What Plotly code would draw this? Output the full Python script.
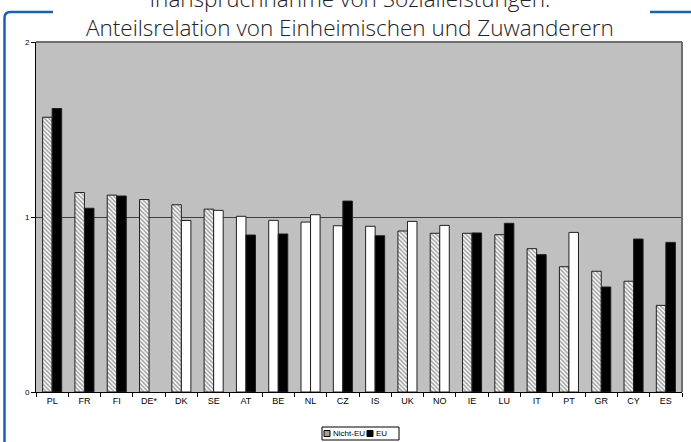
import plotly.graph_objects as go

countries = ["PL", "FR", "FI", "DE*", "DK", "SE", "AT", "BE", "NL", "CZ",
             "IS", "UK", "NO", "IE", "LU", "IT", "PT", "GR", "CY", "ES"]
nicht_eu = [1.57, 1.14, 1.125, 1.10, 1.07, 1.045, 1.004, 0.981, 0.971, 0.950,
            0.947, 0.920, 0.907, 0.907, 0.899, 0.819, 0.716, 0.690, 0.633, 0.495]
eu = [1.62, 1.05, 1.12, None, 0.98, 1.038, 0.897, 0.903, 1.013, 1.091,
      0.893, 0.975, 0.952, 0.909, 0.964, 0.785, 0.912, 0.600, 0.874, 0.855]
# styling flags
nicht_eu_hatched = [True, True, True, True, True, True, False, False, False, False,
                    False, True, True, True, True, True, True, True, True, True]
eu_black = [True, True, True, True, False, False, True, True, False, True,
            True, False, False, True, True, True, False, True, True, True]
title_lines = ["Inanspruchnahme von Sozialleistungen:",
               "Anteilsrelation von Einheimischen und Zuwanderern"]

W, H = 691, 442
L, R, T, B = 36, 9, 42, 50
pw, ph = W - L - R, H - T - B

def px(x):
    return (x - L) / pw

def py(y):
    return (H - B - y) / ph

fig = go.Figure()
fig.add_trace(go.Bar(
    x=countries, y=nicht_eu, name="Nicht-EU",
    marker=dict(
        color="white",
        line=dict(color="#202020", width=1),
        pattern=dict(shape=["\\" if h else "" for h in nicht_eu_hatched],
                     fgcolor="#404040", bgcolor="white", size=3, solidity=0.5),
    ),
    showlegend=False,
))
fig.add_trace(go.Bar(
    x=countries, y=eu, name="EU",
    marker=dict(
        color=["black" if b else "white" for b in eu_black],
        line=dict(color="#202020", width=1),
    ),
    showlegend=False,
))

blue = "#1a62b0"
shapes = [
    dict(type="line", xref="paper", yref="paper", x0=0, x1=1, y0=1, y1=1,
         line=dict(color="#6e6e6e", width=2)),
    dict(type="line", xref="paper", yref="paper", x0=1, x1=1, y0=0, y1=1,
         line=dict(color="#6e6e6e", width=2)),
    dict(type="path", xref="paper", yref="paper",
         path=f"M {px(4.5)},{py(445)} L {px(4.5)},{py(18)} Q {px(4.5)},{py(12)} {px(10.5)},{py(12)} L {px(53)},{py(12)}",
         line=dict(color=blue, width=2.5)),
    dict(type="line", xref="paper", yref="paper", x0=px(650), x1=px(695), y0=py(12), y1=py(12),
         line=dict(color=blue, width=2.5)),
    dict(type="rect", xref="paper", yref="paper", x0=px(322), x1=px(399), y0=py(427), y1=py(440),
         line=dict(color="black", width=1), fillcolor="white"),
    dict(type="rect", xref="paper", yref="paper", x0=px(324), x1=px(330), y0=py(430.5), y1=py(436.5),
         line=dict(color="black", width=1), fillcolor="#a0a0a0"),
    dict(type="rect", xref="paper", yref="paper", x0=px(367), x1=px(373), y0=py(430.5), y1=py(436.5),
         line=dict(color="black", width=1), fillcolor="black"),
]

title_font = dict(family="Open Sans", size=22.5, color="#222222", weight=300)
annotations = [
    dict(text="<br>".join(title_lines), xref="paper", yref="paper",
         x=px(350), y=py(13), xanchor="center", yanchor="middle", showarrow=False,
         align="center", font=title_font),
    dict(text="Nicht-EU", xref="paper", yref="paper", x=px(331), y=py(433.5),
         xanchor="left", yanchor="middle", showarrow=False,
         font=dict(family="Liberation Sans", size=8, color="black")),
    dict(text="EU", xref="paper", yref="paper", x=px(374), y=py(433.5),
         xanchor="left", yanchor="middle", showarrow=False,
         font=dict(family="Liberation Sans", size=8, color="black")),
]

fig.update_layout(
    width=W, height=H,
    margin=dict(l=L, r=R, t=T, b=B, pad=0),
    paper_bgcolor="white", plot_bgcolor="#c0c0c0",
    barmode="group", bargap=0.41, bargroupgap=0,
    shapes=shapes, annotations=annotations,
    font=dict(family="Liberation Sans", color="black"),
)
fig.update_xaxes(
    showline=True, linecolor="black", linewidth=1,
    ticks="outside", ticklen=4, tickcolor="black", tickson="boundaries",
    tickfont=dict(size=9, color="black"), showgrid=False,
)
fig.update_yaxes(
    range=[0, 2], tickvals=[0, 1, 2], ticktext=["0", "1", "2"],
    showline=True, linecolor="black", linewidth=1,
    ticks="outside", ticklen=4, tickcolor="black",
    tickfont=dict(size=8, color="black"), showgrid=True, gridcolor="#404040", gridwidth=1,
    zeroline=False,
)

fig.write_html("out.html", config={"displayModeBar": False})

# remove the default page margin so the figure sits at the window's corner
with open("out.html", encoding="utf-8") as f:
    html = f.read()
html = html.replace("<body>", '<body style="margin:0;padding:0;overflow:hidden">', 1)
html = html.replace("<head>", '<head><style>html,body{margin:0;padding:0;overflow:hidden}</style>', 1)
with open("out.html", "w", encoding="utf-8") as f:
    f.write(html)
